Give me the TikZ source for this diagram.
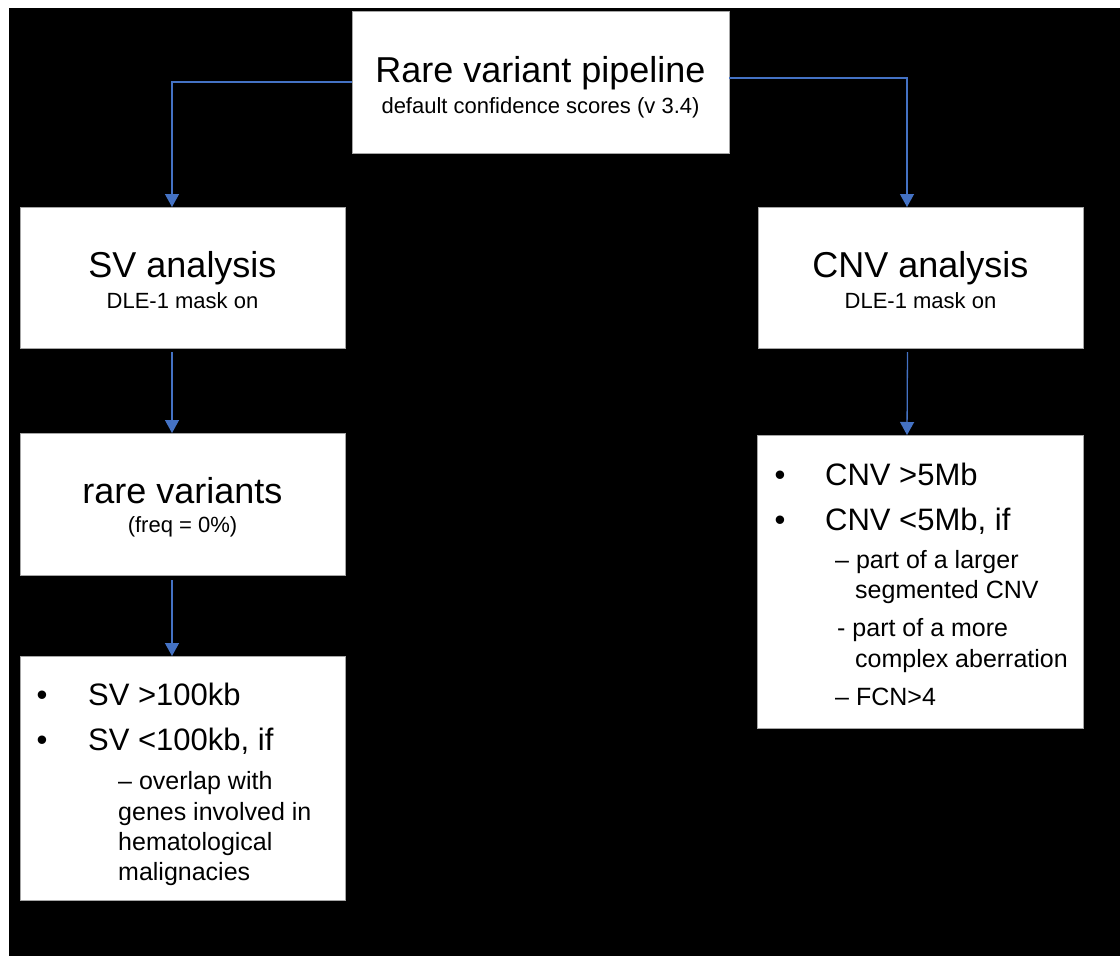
\documentclass[tikz,border=0pt]{standalone}
\usepackage{fontspec}
\setmainfont{Liberation Sans}
\usetikzlibrary{arrows.meta}
\definecolor{linkblue}{HTML}{4472C4}
\definecolor{boxedge}{HTML}{A6A6A6}
\tikzset{
  box/.style={draw=boxedge, fill=white, line width=0.8pt, inner sep=0pt, outer sep=0pt},
  ttl/.style={anchor=base, inner sep=0pt, font=\fontsize{36}{40}\selectfont},
  subttl/.style={anchor=base, inner sep=0pt, font=\fontsize{22}{26}\selectfont},
  item/.style={anchor=base west, inner sep=0pt, font=\fontsize{31}{36}\selectfont},
  dot/.style={anchor=base, inner sep=0pt, font=\fontsize{31}{36}\selectfont},
  subitem/.style={anchor=base west, inner sep=0pt, font=\fontsize{25}{30}\selectfont},
  arr/.style={draw=linkblue, line width=1.3pt, -{Triangle[width=14pt,length=13pt]}}
}
\begin{document}
\begin{tikzpicture}[x=1pt, y=-1pt]
  % canvas
  \useasboundingbox (0,0) rectangle (1120,956);
  \fill[white] (0,0) rectangle (1120,956);
  \fill[black] (9,8) rectangle (1120,956);

  % boxes
  \node[box, minimum width=377pt, minimum height=142pt] (top)  at (540.5,82)  {};
  \node[box, minimum width=325pt, minimum height=141pt] (sv)   at (182.5,277.5) {};
  \node[box, minimum width=325pt, minimum height=141pt] (cnv)  at (920.5,277.5) {};
  \node[box, minimum width=325pt, minimum height=142pt] (rare) at (182.5,504) {};
  \node[box, minimum width=325pt, minimum height=244pt] (svl)  at (182.5,778) {};
  \node[box, minimum width=326pt, minimum height=293pt] (cnvl) at (920,581.5) {};

  % headings
  \node[ttl]    (topA)  at (540.5,82)  {Rare variant pipeline};
  \node[subttl] (topB)  at (540.5,113) {default confidence scores (v 3.4)};
  \node[ttl]    (svA)   at (182.5,277) {SV analysis};
  \node[subttl] (svB)   at (182.5,308) {DLE-1 mask on};
  \node[ttl]    (cnvA)  at (920.5,277) {CNV analysis};
  \node[subttl] (cnvB)  at (920.5,308) {DLE-1 mask on};
  \node[ttl]    (rareA) at (182.5,503) {rare variants};
  \node[subttl] (rareB) at (182.5,532) {(freq = 0\%)};

  % SV criteria
  \node[dot]     (svd1) at (42,705) {•};
  \node[item]    (svi1) at (88,705) {SV >100kb};
  \node[dot]     (svd2) at (42,750) {•};
  \node[item]    (svi2) at (88,750) {SV <100kb, if};
  \node[subitem] (svs1) at (118,789) {– overlap with};
  \node[subitem] (svs2) at (118,820) {genes involved in};
  \node[subitem] (svs3) at (118,850) {hematological};
  \node[subitem] (svs4) at (118,880) {malignacies};

  % CNV criteria
  \node[dot]     (cnd1) at (780,485) {•};
  \node[item]    (cni1) at (825,485) {CNV >5Mb};
  \node[dot]     (cnd2) at (780,530) {•};
  \node[item]    (cni2) at (825,530) {CNV <5Mb, if};
  \node[subitem] (cns1) at (835,568) {– part of a larger};
  \node[subitem] (cns2) at (855,598) {segmented CNV};
  \node[subitem] (cns3) at (837,636) {- part of a more};
  \node[subitem] (cns4) at (855,667) {complex aberration};
  \node[subitem] (cns5) at (835,705) {– FCN>4};

  % connectors
  \draw[arr] (top.west) -| ([xshift=-10.5pt]sv.north);
  \draw[arr] ([yshift=4pt]top.east) -| ([xshift=-13.5pt]cnv.north);
  \draw[arr] ([xshift=-10.5pt,yshift=-4pt]sv.south) -- ([xshift=-10.5pt]rare.north);
  \draw[arr] ([xshift=-10.5pt,yshift=-5pt]rare.south) -- ([xshift=-10.5pt]svl.north);
  \draw[arr] ([xshift=-13pt,yshift=-4pt]cnv.south) -- ([xshift=-13pt]cnvl.north);
\end{tikzpicture}
\end{document}
